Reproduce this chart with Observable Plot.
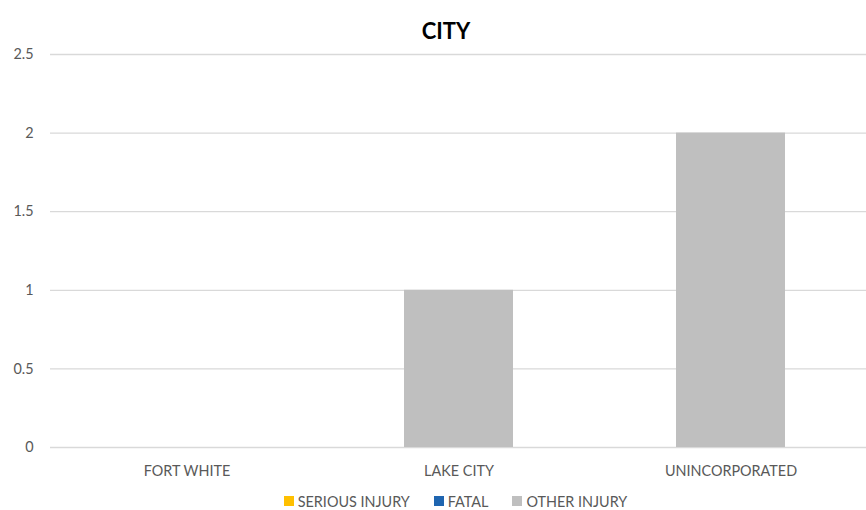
<!DOCTYPE html>
<html>
<head>
<meta charset="utf-8">
<script src="https://cdn.jsdelivr.net/npm/d3@7"></script>
<script src="https://cdn.jsdelivr.net/npm/@observablehq/plot@0.6"></script>
<style>
  html, body { margin: 0; padding: 0; background: #fff; overflow: hidden; }
  body { width: 866px; height: 510px; font-family: Lato, "Open Sans", sans-serif; }
  #title { height: 40px; text-align: center; font-weight: bold; font-size: 22px; color: #000; line-height: 22px; padding-top: 20px; box-sizing: border-box; padding-left: 26px; }
  #legend { display: flex; justify-content: center; align-items: center; gap: 24px; font-size: 14.4px; color: #595959; padding-left: 45px; padding-top: 4px; height: 28px; box-sizing: border-box; }
  .sw { display: inline-block; width: 10px; height: 10px; margin-right: 4px; }
  .item { display: flex; align-items: center; }
</style>
</head>
<body>
<div id="title">CITY</div>
<div id="chart"></div>
<div id="legend"></div>
<script>
const categories = ["FORT WHITE", "LAKE CITY", "UNINCORPORATED"];
const seriesNames = ["SERIOUS INJURY", "FATAL", "OTHER INJURY"];
const seriousInjury = [0, 0, 0];
const fatal = [0, 0, 0];
const otherInjury = [0, 1, 2];
const seriesColors = ["#ffc000", "#1f65b0", "#bfbfbf"];
const yTicks = [0, 0.5, 1, 1.5, 2, 2.5];

const seriesValues = [seriousInjury, fatal, otherInjury];
const data = [];
seriesNames.forEach((s, si) => {
  categories.forEach((c, ci) => {
    data.push({category: c, series: s, value: seriesValues[si][ci]});
  });
});

const chart = Plot.plot({
  width: 866,
  height: 445,
  marginTop: 14,
  marginBottom: 38,
  marginLeft: 50,
  marginRight: -1,
  style: { fontFamily: "Lato, 'Open Sans', sans-serif", fontSize: "14.4px", color: "#595959", background: "#fff" },
  x: { domain: categories, paddingInner: 0.6, paddingOuter: 0.3, label: null },
  y: { domain: [0, 2.5], label: null },
  color: { domain: seriesNames, range: seriesColors },
  marks: [
    Plot.ruleY(yTicks, { stroke: "#d9d9d9", strokeWidth: 1.3 }),
    Plot.barY(data, Plot.stackY({ x: "category", y: "value", fill: "series", order: seriesNames })),
    Plot.axisX({ tickSize: 0, tickPadding: 18, fill: "#595959", label: null }),
    Plot.axisY({ ticks: yTicks, tickSize: 0, tickPadding: 17, fill: "#595959", label: null, tickFormat: d => String(d) })
  ]
});
document.getElementById("chart").appendChild(chart);

const legend = document.getElementById("legend");
seriesNames.forEach((s, i) => {
  const item = document.createElement("span");
  item.className = "item";
  const sw = document.createElement("span");
  sw.className = "sw";
  sw.style.background = seriesColors[i];
  item.appendChild(sw);
  item.appendChild(document.createTextNode(s));
  legend.appendChild(item);
});
</script>
</body>
</html>
